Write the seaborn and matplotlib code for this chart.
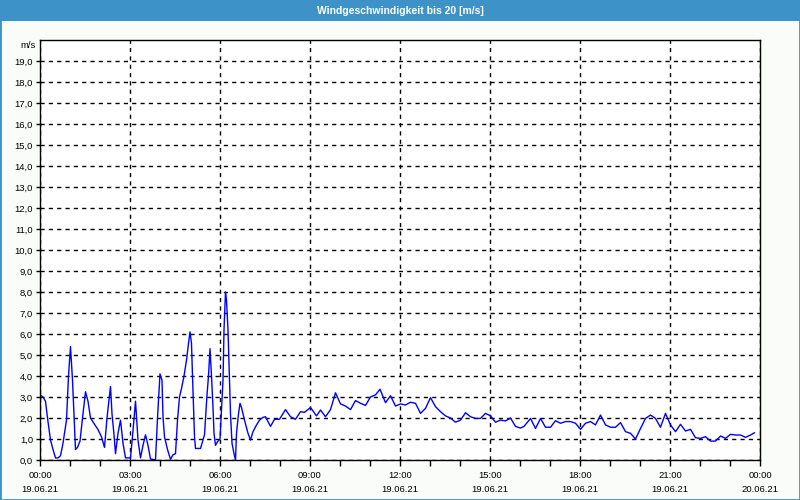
import numpy as np
import pandas as pd
import matplotlib
matplotlib.use("Agg")
import matplotlib.pyplot as plt
from matplotlib.patches import Rectangle
import seaborn as sns

# ---- data ----
title = "Windgeschwindigkeit bis 20 [m/s]"
unit_label = "m/s"
start_day = "2021-06-19"

minutes = [0, 6, 11, 15, 21, 26, 31, 36, 41, 46, 53, 57, 61, 65, 68, 71, 75, 80, 85, 91,
           96, 101, 109, 116, 123, 129, 134, 141, 144, 148, 151, 156, 161, 166, 171, 176, 181, 186, 191, 196,
           201, 206, 211, 216, 221, 231, 235, 240, 244, 246, 249, 255, 261, 266, 271, 275,
           279, 283, 288, 293, 297, 300, 303, 305, 309, 311, 316, 321, 326, 329, 334, 337,
           340, 343, 346, 348, 351, 355, 360, 366, 368, 371, 373, 376, 378, 381,
           384, 388, 391, 393, 397, 400, 403, 409, 416, 421, 426, 433, 439, 446, 451, 461,
           469, 479, 491, 501, 511, 521, 529, 541, 553, 561, 571, 581, 591, 601, 611, 621,
           631, 641, 651, 661, 671, 680, 691, 701, 711, 721, 731, 741, 751, 761, 771, 781,
           791, 801, 811, 821, 831, 841, 851, 861, 871, 881, 891, 901, 911, 921, 931, 941,
           951, 961, 968, 981, 991, 1001, 1011, 1021, 1031, 1041, 1051, 1061, 1071, 1081,
           1091, 1101, 1111, 1121, 1131, 1141, 1151, 1161, 1171, 1181, 1191, 1201, 1211,
           1221, 1231, 1241, 1251, 1261, 1271, 1281, 1291, 1301, 1311, 1321, 1331, 1341,
           1351, 1361, 1371, 1381, 1391, 1401, 1411, 1421, 1429]

speed = [3.1, 3.0, 2.8, 2.0, 0.95, 0.5, 0.1, 0.1, 0.2, 0.8, 1.9, 4.0, 5.4, 3.8, 2.2, 0.5, 0.6, 0.9, 2.0, 3.25,
         2.8, 2.0, 1.7, 1.45, 1.1, 0.6, 2.0, 3.5, 2.2, 1.2, 0.3, 1.27, 1.9, 0.8, 0.1, 0.1, 0.1, 1.4, 2.8, 0.95,
         0.1, 0.7, 1.2, 0.7, 0.05, 0.0, 2.0, 4.1, 3.8, 2.06, 1.1, 0.5, 0.03, 0.25, 0.3, 1.9,
         3.0, 3.4, 4.0, 4.75, 5.55, 6.1, 5.55, 4.0, 1.1, 0.55, 0.55, 0.55, 0.95, 1.2, 3.1, 4.0,
         5.3, 4.0, 2.5, 1.27, 0.7, 0.87, 1.0, 3.8, 6.2, 8.0, 7.6, 6.2, 4.6, 2.2,
         0.8, 0.3, 0.0, 1.27, 2.2, 2.7, 2.5, 1.9, 1.27, 0.95, 1.35, 1.67, 1.9, 2.03, 2.06, 1.6,
         1.94, 1.94, 2.4, 2.06, 1.94, 2.3, 2.27, 2.5, 2.1, 2.38, 2.06, 2.4, 3.2, 2.67, 2.57, 2.4,
         2.83, 2.7, 2.6, 3.0, 3.1, 3.37, 2.73, 3.06, 2.57, 2.67, 2.62, 2.75, 2.7, 2.22, 2.46, 2.97,
         2.54, 2.3, 2.1, 2.0, 1.8, 1.9, 2.25, 2.06, 1.98, 1.98, 2.22, 2.1, 1.8, 1.9, 1.86, 2.0,
         1.6, 1.52, 1.6, 1.98, 1.5, 1.98, 1.56, 1.56, 1.87, 1.75, 1.83, 1.83, 1.75, 1.46,
         1.75, 1.83, 1.67, 2.14, 1.67, 1.56, 1.56, 1.78, 1.35, 1.27, 1.0, 1.5, 1.98,
         2.14, 1.98, 1.56, 2.22, 1.67, 1.35, 1.7, 1.38, 1.46, 1.06, 1.03, 1.11, 0.9,
         0.9, 1.14, 1.03, 1.22, 1.19, 1.19, 1.08, 1.19, 1.3]

x_time_labels = ["00:00", "03:00", "06:00", "09:00", "12:00", "15:00", "18:00", "21:00", "00:00"]
x_date_labels = ["19.06.21"] * 8 + ["20.06.21"]
y_values = list(range(0, 20))
y_labels = [f"{v},0" for v in y_values]

# ---- figure ----
sns.set_style("ticks")
plt.rcParams["font.family"] = ["Liberation Sans", "DejaVu Sans"]

BLUE_BAR = "#3D92C8"
BG = "#FAFCFA"

fig = plt.figure(figsize=(8, 5), dpi=100, facecolor=BG)
ax = fig.add_axes([40 / 800, 40 / 500, 720 / 800, 420 / 500])
ax.set_facecolor("white")

t0 = pd.Timestamp(start_day)
df = pd.DataFrame({"time": t0 + pd.to_timedelta(minutes, unit="min"), "speed": speed})

sns.lineplot(data=df, x="time", y="speed", color="#0000FF", linewidth=1.0, ax=ax)

ax.set_xlim(t0, t0 + pd.Timedelta(hours=24))
ax.set_ylim(0, 20)

major = [t0 + pd.Timedelta(hours=3 * i) for i in range(9)]
minor = [t0 + pd.Timedelta(hours=i) for i in range(25)]
ax.set_xticks(major)
ax.set_xticks(minor, minor=True)
xl = ax.set_xticklabels([f"{a}\n{b}" for a, b in zip(x_time_labels, x_date_labels)])
for t in xl:
    t.set_linespacing(1.75)
ax.set_yticks(y_values)
ax.set_yticklabels(y_labels)

ax.tick_params(axis="both", which="both", direction="out", color="black",
               labelsize=6.8, labelcolor="black", width=1)
ax.tick_params(axis="x", which="major", length=4, pad=4)
ax.tick_params(axis="x", which="minor", length=4)
ax.tick_params(axis="y", which="major", length=3, pad=2)

ax.grid(True, which="major", color="black", linestyle=(0, (3, 3)), linewidth=1)
for s in ax.spines.values():
    s.set_visible(True)
    s.set_color("black")
    s.set_linewidth(1)
ax.set_xlabel("")
ax.set_ylabel("")

# unit label at top of y axis
ax.text(-0.006, 19.75, unit_label, transform=ax.get_yaxis_transform(),
        ha="right", va="center", fontsize=6.8, color="black")

# title bar & frame
fig.patches.append(Rectangle((0, 1 - 21 / 500), 1, 21 / 500, transform=fig.transFigure,
                             facecolor=BLUE_BAR, edgecolor="none", zorder=0))
fig.patches.append(Rectangle((0, 0), 1, 1, transform=fig.transFigure, fill=False,
                             edgecolor=BLUE_BAR, linewidth=2, zorder=5))
fig.text(0.5, 1 - 10.5 / 500, title, ha="center", va="center", color="white",
         fontsize=7.5, fontweight="bold")

fig.savefig("out.png", dpi=100, facecolor=BG)
